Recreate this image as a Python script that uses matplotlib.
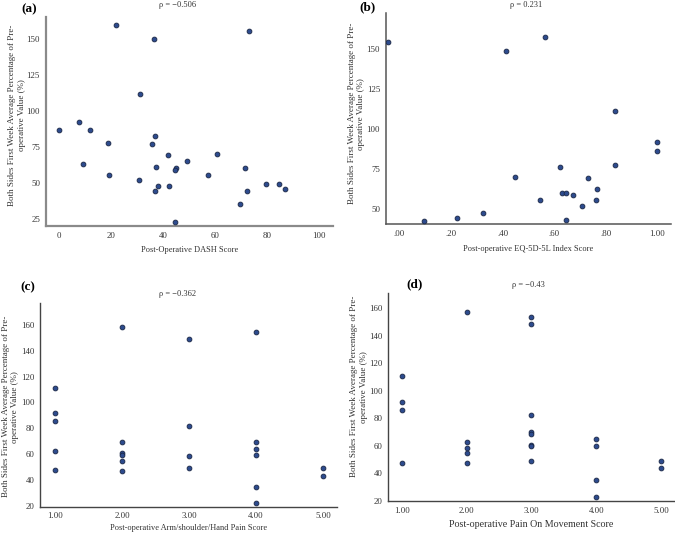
import matplotlib
matplotlib.use("Agg")
import matplotlib.pyplot as plt

plt.rcParams['font.family'] = ['Liberation Serif', 'DejaVu Serif']

# ---- data ----
dash_x = [21.8, 73.1, 36.5, 31.0, 7.7, 0.0, 11.9, 36.7, 18.8, 35.8, 41.7, 60.8, 9.2, 37.3, 49.0,
          45.0, 44.6, 71.4, 19.0, 57.3, 30.8, 37.9, 42.4, 79.7, 84.7, 36.7, 72.1, 86.9, 69.7, 44.7]
dash_y = [159.5, 155.5, 149.8, 111.9, 92.3, 86.8, 86.6, 82.7, 77.6, 76.9, 69.7, 70.4, 63.1, 61.2, 65.1,
          60.3, 58.9, 60.3, 55.2, 55.2, 51.8, 47.8, 47.6, 49.4, 49.4, 44.6, 44.4, 45.5, 35.1, 22.7]

eq_x = [-0.043, 0.566, 0.412, 0.835, 0.997, 1.0, 0.623, 0.835, 0.448, 0.733, 0.767, 0.630, 0.646,
        0.672, 0.545, 0.764, 0.708, 0.324, 0.224, 0.097, 0.645]
eq_y = [154.2, 157.5, 148.3, 111.0, 91.7, 86.0, 76.0, 77.1, 69.9, 69.4, 62.5, 60.0, 60.0,
        58.3, 55.2, 55.2, 51.7, 47.5, 44.0, 42.5, 42.9]

arm_x = [1, 1, 1, 1, 1, 2, 2, 2, 2, 2, 2, 3, 3, 3, 3, 4, 4, 4, 4, 4, 4, 5, 5]
arm_y = [111.3, 91.7, 86.0, 62.3, 47.6, 158.2, 69.5, 61.0, 59.7, 54.8, 47.4, 148.9, 82.1, 58.4, 49.1,
         154.1, 69.5, 64.4, 59.7, 34.7, 22.6, 49.1, 43.5]

mov_x = [1, 1, 1, 1, 2, 2, 2, 2, 2, 3, 3, 3, 3, 3, 3, 3, 3, 4, 4, 4, 4, 5, 5]
mov_y = [110.8, 91.8, 86.3, 47.7, 157.1, 62.9, 58.6, 55.2, 47.7, 153.7, 148.2, 82.2, 70.1, 68.9,
         61.0, 60.0, 49.2, 65.1, 59.8, 35.2, 22.9, 49.4, 43.9]

panel_labels = ['(a)', '(b)', '(c)', '(d)']
rho_labels = ['ρ = −0.506', 'ρ = 0.231', 'ρ = −0.362', 'ρ = −0.43']
x_labels = ['Post-Operative DASH Score', 'Post-operative EQ-5D-5L Index Score',
            'Post-operative Arm/shoulder/Hand Pain Score', 'Post-operative Pain On Movement Score']
y_label = 'Both Sides First Week Average Percentage of Pre-\noperative Value (%)'

a_xticks = [0, 20, 40, 60, 80, 100]
a_yticks = [25, 50, 75, 100, 125, 150]
b_xticks = [0.0, 0.2, 0.4, 0.6, 0.8, 1.0]
b_xticklabels = ['.00', '.20', '.40', '.60', '.80', '1.00']
b_yticks = [50, 75, 100, 125, 150]
cd_xticks = [1, 2, 3, 4, 5]
cd_xticklabels = ['1.00', '2.00', '3.00', '4.00', '5.00']
cd_yticks = [20, 40, 60, 80, 100, 120, 140, 160]

W, H = 675, 535
fig = plt.figure(figsize=(W / 100, H / 100), dpi=100)


def box(l, t, r, b):
    return [l / W, 1 - b / H, (r - l) / W, (b - t) / H]


axes_boxes = [box(45.6, 17, 333, 226), box(385.7, 13.3, 671, 224),
              box(40, 303, 337, 506.7), box(388.3, 293, 674, 501)]
datasets = [(dash_x, dash_y), (eq_x, eq_y), (arm_x, arm_y), (mov_x, mov_y)]
xlims = [(-5.3, 105.4), (-0.053, 1.053), (0.776, 5.21), (0.79, 5.2)]
ylims = [(20.2, 165), (40.4, 172), (19.5, 176.8), (20.5, 171)]
xticks = [(a_xticks, [str(t) for t in a_xticks]), (b_xticks, b_xticklabels),
          (cd_xticks, cd_xticklabels), (cd_xticks, cd_xticklabels)]
yticks = [a_yticks, b_yticks, cd_yticks, cd_yticks]
letter_pos = [(29, 9), (368, 7), (28, 287), (415, 284)]
rho_pos = [(178, 5), (526, 5), (177, 294), (528, 285)]
ylabel_coords = [(-0.0995, 0.529), (-0.103, 0.524), (-0.0997, 0.491), (-0.1026, 0.55)]
xlabel_pads = [4.5, 5.5, 3, 4]
xlabel_sizes = [6.0, 6.0, 6.0, 7.2]
spine_colors = ['#8a8a8a', '#555555', '#444444', '#444444']
spine_widths = [1.6, 1.1, 1.0, 1.0]

for i in range(4):
    ax = fig.add_axes(axes_boxes[i])
    xs, ys = datasets[i]
    ax.scatter(xs, ys, s=12, c='#2d4b8e', edgecolors='#1a2745', linewidths=0.6, zorder=3)
    ax.set_xlim(*xlims[i])
    ax.set_ylim(*ylims[i])
    ax.set_xticks(xticks[i][0])
    ax.set_xticklabels(xticks[i][1])
    ax.set_yticks(yticks[i])
    for s in ['top', 'right']:
        ax.spines[s].set_visible(False)
    for s in ['left', 'bottom']:
        ax.spines[s].set_color(spine_colors[i])
        ax.spines[s].set_linewidth(spine_widths[i])
    ax.tick_params(length=0, labelsize=6.3, colors='#333333', pad=4)
    ax.set_xlabel(x_labels[i], fontsize=xlabel_sizes[i], color='#333333', labelpad=xlabel_pads[i])
    ax.set_ylabel(y_label, fontsize=6.5, color='#333333', va='center', linespacing=1.25)
    ax.yaxis.set_label_coords(*ylabel_coords[i])
    fig.text(letter_pos[i][0] / W, 1 - letter_pos[i][1] / H, panel_labels[i],
             fontsize=9.5, fontweight='bold', ha='center', va='center')
    fig.text(rho_pos[i][0] / W, 1 - rho_pos[i][1] / H, rho_labels[i],
             fontsize=6, ha='center', va='center', color='#333333')

fig.savefig('out.png', dpi=100)
